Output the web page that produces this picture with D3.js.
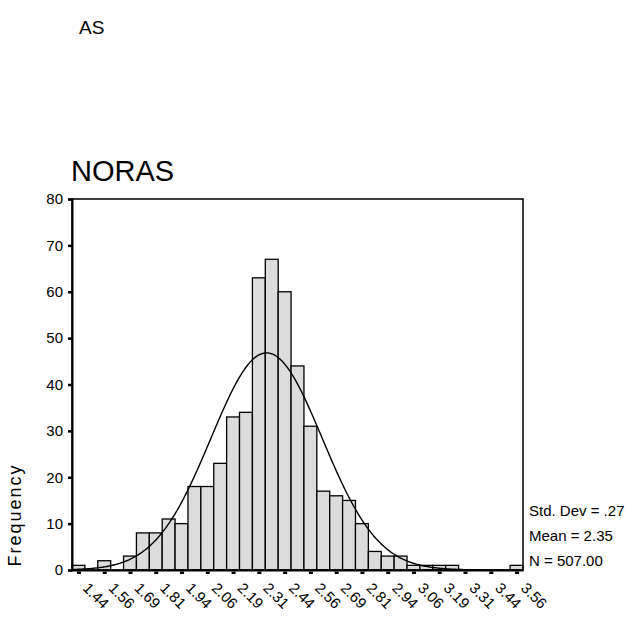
<!DOCTYPE html>
<html><head><meta charset="utf-8">
<script src="https://cdn.jsdelivr.net/npm/d3@7"></script>
<style>body{margin:0;background:#fff;} svg{display:block;font-family:"Liberation Sans",Arial,sans-serif;}</style>
</head><body>
<svg id="c" width="635" height="619"></svg>
<script>
const binCenters = [1.4375,1.5,1.5625,1.625,1.6875,1.75,1.8125,1.875,1.9375,2.0,2.0625,2.125,2.1875,2.25,2.3125,2.375,2.4375,2.5,2.5625,2.625,2.6875,2.75,2.8125,2.875,2.9375,3.0,3.0625,3.125,3.1875,3.25,3.3125,3.375,3.4375,3.5,3.5625];
const counts = [1,0,2,0,3,8,8,11,10,18,18,23,33,34,63,67,60,44,31,17,16,15,10,4,3,3,1,1,1,1,0,0,0,0,1];
const tickValues = [1.4375,1.5625,1.6875,1.8125,1.9375,2.0625,2.1875,2.3125,2.4375,2.5625,2.6875,2.8125,2.9375,3.0625,3.1875,3.3125,3.4375,3.5625];
const tickLabels = ["1.44","1.56","1.69","1.81","1.94","2.06","2.19","2.31","2.44","2.56","2.69","2.81","2.94","3.06","3.19","3.31","3.44","3.56"];
const yTicks = [0,10,20,30,40,50,60,70,80];
const binWidth = 0.0625;
const stats = {sd:0.27, mean:2.35, n:507};
const statLabels = ["Std. Dev = .27","Mean = 2.35","N = 507.00"];

const svg = d3.select("#c");
const L=72, R=523, T=199, B=570;
const x = d3.scaleLinear().domain([binCenters[0]-binWidth/2, binCenters[binCenters.length-1]+binWidth/2]).range([L,R]);
const y = d3.scaleLinear().domain([0,80]).range([B,T]);

svg.append("text").attr("x",79).attr("y",34).attr("font-size",19).text("AS");
svg.append("text").attr("x",71).attr("y",181).attr("font-size",29).text("NORAS");

// bars
svg.append("g").selectAll("rect").data(binCenters).join("rect")
  .attr("x",(d)=>x(d-binWidth/2))
  .attr("width",(d)=>x(d+binWidth/2)-x(d-binWidth/2))
  .attr("y",(d,i)=>y(counts[i]))
  .attr("height",(d,i)=>y(0)-y(counts[i]))
  .attr("fill","#dcdcdc").attr("stroke","#000").attr("stroke-width",1.3);

// normal curve
const pts = d3.range(0,401).map(k=>{
  const v = x.domain()[0] + (x.domain()[1]-x.domain()[0])*k/400;
  const f = stats.n*binWidth/(stats.sd*Math.sqrt(2*Math.PI))*Math.exp(-0.5*Math.pow((v-stats.mean)/stats.sd,2));
  return [v,f];
});
svg.append("path").datum(pts)
  .attr("d", d3.line().x(d=>x(d[0])).y(d=>y(d[1])).curve(d3.curveBasis))
  .attr("fill","none").attr("stroke","#000").attr("stroke-width",1.4);

// frame
svg.append("rect").attr("x",L).attr("y",T).attr("width",R-L).attr("height",B-T)
  .attr("fill","none").attr("stroke","#000").attr("stroke-width",1.5);

// y axis
const ya = svg.append("g").attr("transform",`translate(${L},0)`)
  .call(d3.axisLeft(y).tickValues(yTicks).tickSize(4).tickPadding(5));
ya.select(".domain").attr("stroke-width",2);
ya.selectAll(".tick line").attr("stroke-width",2.5);
ya.selectAll(".tick text").attr("font-size",15).attr("font-family","Liberation Sans, Arial, sans-serif").attr("fill","#000");

// x axis ticks
const xa = svg.append("g").attr("transform",`translate(0,${B})`)
  .call(d3.axisBottom(x).tickValues(tickValues).tickSize(0).tickFormat((d,i)=>tickLabels[i]));
xa.select(".domain").attr("stroke-width",2);
xa.selectAll(".tick").append("rect").attr("x",-2).attr("y",1.5).attr("width",4).attr("height",2.5).attr("fill","#000");
xa.selectAll(".tick text")
  .attr("font-size",15).attr("font-family","Liberation Sans, Arial, sans-serif").attr("fill","#000")
  .attr("text-anchor","start").attr("dy",null).attr("y",null)
  .attr("transform","translate(3,19) rotate(45)");

// stats
svg.append("g").selectAll("text").data(statLabels).join("text")
  .attr("x",529).attr("y",(d,i)=>516+i*25).attr("font-size",15).text(d=>d);

// y title
svg.append("text").attr("transform","translate(21,515) rotate(-90)")
  .attr("text-anchor","middle").attr("font-size",18).attr("letter-spacing",2).text("Frequency");
</script>
</body></html>
